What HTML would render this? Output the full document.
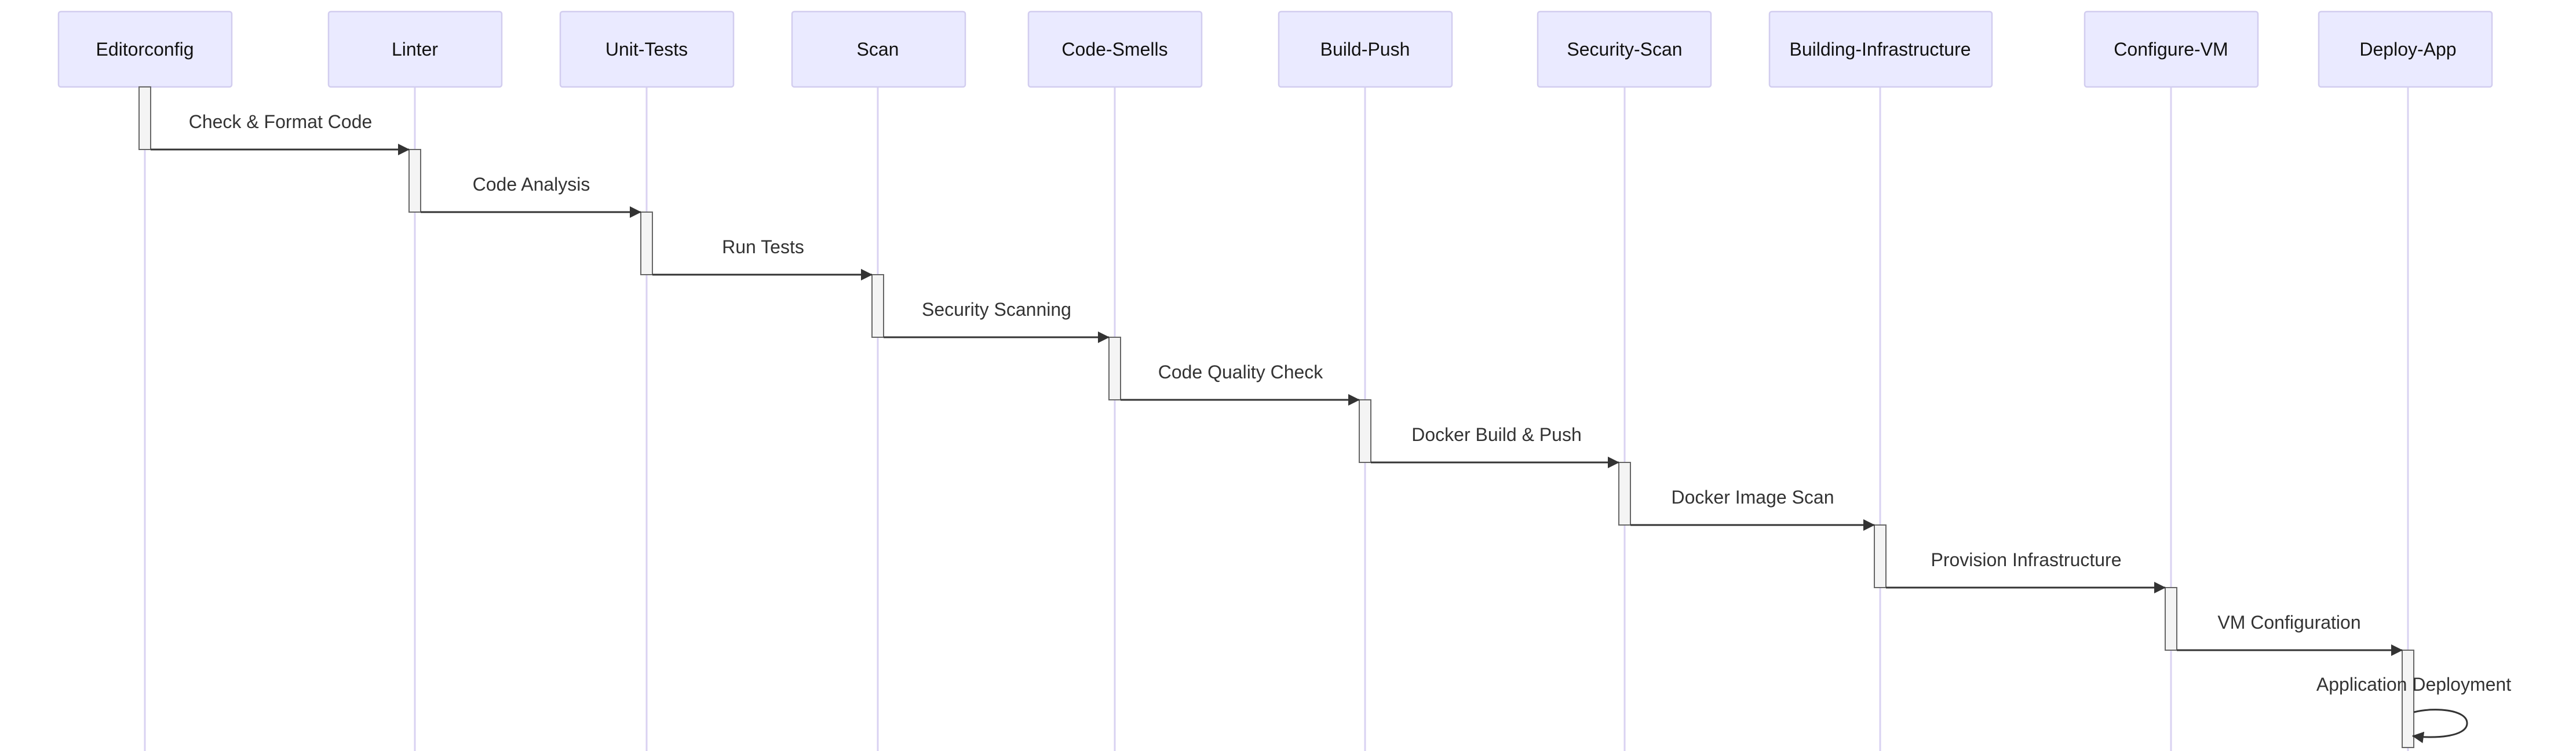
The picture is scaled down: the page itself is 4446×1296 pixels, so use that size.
<!DOCTYPE html>
<html><head><meta charset="utf-8"><style>
html,body{margin:0;padding:0;background:#fff;}
svg{display:block;}
text{font-family:"Liberation Sans",sans-serif;font-size:32px;}
</style></head><body>
<svg width="4446" height="1296" viewBox="0 0 4446 1296" xmlns="http://www.w3.org/2000/svg">
<defs>
<marker id="ah" markerWidth="20" markerHeight="20" refX="19" refY="10" orient="auto" markerUnits="userSpaceOnUse">
<path d="M0,0 L20,10 L0,20 z" fill="#333"/>
</marker>
</defs>
<g stroke="#d9d2f2" stroke-width="3">
<line x1="250" y1="150" x2="250" y2="1296"/>
<line x1="716" y1="150" x2="716" y2="1296"/>
<line x1="1116" y1="150" x2="1116" y2="1296"/>
<line x1="1515" y1="150" x2="1515" y2="1296"/>
<line x1="1924" y1="150" x2="1924" y2="1296"/>
<line x1="2356" y1="150" x2="2356" y2="1296"/>
<line x1="2804" y1="150" x2="2804" y2="1296"/>
<line x1="3245" y1="150" x2="3245" y2="1296"/>
<line x1="3747" y1="150" x2="3747" y2="1296"/>
<line x1="4156" y1="150" x2="4156" y2="1296"/>
</g>
<g fill="#eaeaff" stroke="#d2cdef" stroke-width="2.5">
<rect x="101" y="20" width="299" height="130" rx="4"/>
<rect x="567" y="20" width="299" height="130" rx="4"/>
<rect x="967" y="20" width="299" height="130" rx="4"/>
<rect x="1367" y="20" width="299" height="130" rx="4"/>
<rect x="1775" y="20" width="299" height="130" rx="4"/>
<rect x="2207" y="20" width="299" height="130" rx="4"/>
<rect x="2654" y="20" width="299" height="130" rx="4"/>
<rect x="3054" y="20" width="384" height="130" rx="4"/>
<rect x="3598" y="20" width="299" height="130" rx="4"/>
<rect x="4002" y="20" width="299" height="130" rx="4"/>
</g>
<g fill="#111" text-anchor="middle">
<text x="250" y="96">Editorconfig</text>
<text x="716" y="96">Linter</text>
<text x="1116" y="96">Unit-Tests</text>
<text x="1515" y="96">Scan</text>
<text x="1924" y="96">Code-Smells</text>
<text x="2356" y="96">Build-Push</text>
<text x="2804" y="96">Security-Scan</text>
<text x="3245" y="96">Building-Infrastructure</text>
<text x="3747" y="96">Configure-VM</text>
<text x="4156" y="96">Deploy-App</text>
</g>
<g fill="#f4f4f4" stroke="#666" stroke-width="2">
<rect x="240" y="150" width="20" height="108"/>
<rect x="706" y="258" width="20" height="108"/>
<rect x="1106" y="366" width="20" height="108"/>
<rect x="1505" y="474" width="20" height="108"/>
<rect x="1914" y="582" width="20" height="108"/>
<rect x="2346" y="690" width="20" height="108"/>
<rect x="2794" y="798" width="20" height="108"/>
<rect x="3235" y="906" width="20" height="108"/>
<rect x="3737" y="1014" width="20" height="108"/>
<rect x="4146" y="1122" width="20" height="168"/>
</g>
<g stroke="#333" stroke-width="3" fill="none" marker-end="url(#ah)">
<line x1="260" y1="258" x2="706" y2="258"/>
<line x1="726" y1="366" x2="1106" y2="366"/>
<line x1="1126" y1="474" x2="1505" y2="474"/>
<line x1="1525" y1="582" x2="1914" y2="582"/>
<line x1="1934" y1="690" x2="2346" y2="690"/>
<line x1="2366" y1="798" x2="2794" y2="798"/>
<line x1="2814" y1="906" x2="3235" y2="906"/>
<line x1="3255" y1="1014" x2="3737" y2="1014"/>
<line x1="3757" y1="1122" x2="4146" y2="1122"/>
<path d="M4166,1229 C4200,1220 4258,1224 4258,1248 C4258,1272 4200,1275 4164,1270"/>
</g>
<g fill="#333" text-anchor="middle">
<text x="484" y="221">Check &amp; Format Code</text>
<text x="917" y="329">Code Analysis</text>
<text x="1317" y="437">Run Tests</text>
<text x="1720" y="545">Security Scanning</text>
<text x="2141" y="653">Code Quality Check</text>
<text x="2583" y="761">Docker Build &amp; Push</text>
<text x="3025" y="869">Docker Image Scan</text>
<text x="3497" y="977">Provision Infrastructure</text>
<text x="3951" y="1085">VM Configuration</text>
<text x="4166" y="1192">Application Deployment</text>
</g>
</svg>
</body></html>
